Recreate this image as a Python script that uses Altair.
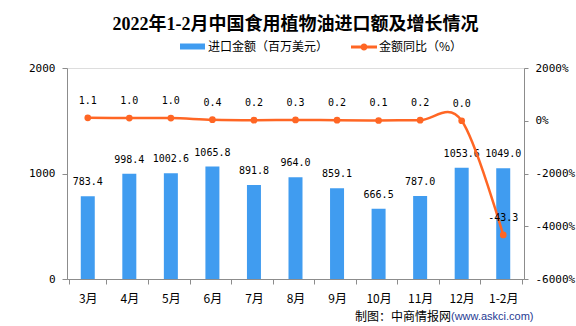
import altair as alt
import pandas as pd

months = ["3月", "4月", "5月", "6月", "7月", "8月", "9月", "10月", "11月", "12月", "1-2月"]
amount = [783.4, 998.4, 1002.6, 1065.8, 891.8, 964.0, 859.1, 666.5, 787.0, 1053.6, 1049.0]
yoy = [1.1, 1.0, 1.0, 0.4, 0.2, 0.3, 0.2, 0.1, 0.2, 0.0, -43.3]

title_text = "2022年1-2月中国食用植物油进口额及增长情况"
bar_name = "进口金额（百万美元）"
line_name = "金额同比（%）"
footer_black = "制图：中商情报网"
footer_blue = "(www.askci.com)"

BLUE = "#409CF0"
ORANGE = "#FF6624"
GREY = "#8C8C8C"
NUM_FONT = "DejaVu Sans Mono"
CJK = "Noto Sans CJK SC"

df = pd.DataFrame({
    "month": months,
    "amount": amount,
    "yoy": yoy,
    "amount_lbl": [f"{v:.1f}" for v in amount],
    "yoy_lbl": [f"{v:.1f}" for v in yoy],
    "bar_series": [bar_name] * len(months),
    "line_series": [line_name] * len(months),
})

x_enc = alt.X(
    "month:N", sort=months, title=None,
    axis=alt.Axis(
        tickBand="extent", labelAngle=0, tickSize=5, labelPadding=9,
        domainColor=GREY, tickColor=GREY, labelColor="#000000",
        labelFont=CJK, labelFontSize=12, grid=False,
    ),
)

y_left = alt.Y(
    "amount:Q", title=None,
    scale=alt.Scale(domain=[0, 2000]),
    axis=alt.Axis(
        values=[0, 1000, 2000], format="d", orient="left", grid=False,
        tickSize=5, labelPadding=7, domainColor=GREY, tickColor=GREY,
        labelColor="#000000", labelFont=NUM_FONT, labelFontSize=11,
    ),
)

bar_legend = alt.Legend(
    title=None, orient="none", legendX=113, legendY=-34, direction="horizontal",
    symbolType="M-1,-0.24H1V0.24H-1Z", symbolSize=625, symbolStrokeWidth=0,
    labelFont=CJK, labelFontSize=12, labelColor="#000000", labelOffset=3, padding=0,
)
line_legend = alt.Legend(
    title=None, orient="none", legendX=284, legendY=-34, direction="horizontal",
    symbolType="M-1,-0.11H1V0.11H-1Z M0.27,0 A0.27,0.27 0 1,1 -0.27,0 A0.27,0.27 0 1,1 0.27,0 Z",
    symbolSize=676, symbolStrokeWidth=0, symbolFillColor=ORANGE, symbolOpacity=1,
    labelFont=CJK, labelFontSize=12, labelColor="#000000", labelOffset=2, padding=0,
)

base = alt.Chart(df)

bars = base.mark_bar(width=14).encode(
    x=x_enc,
    y=y_left,
    color=alt.Color("bar_series:N", scale=alt.Scale(domain=[bar_name], range=[BLUE]), legend=bar_legend),
)
bar_text = base.mark_text(font=NUM_FONT, fontSize=10, dy=-14, color="#000000").encode(
    x=alt.X("month:N", sort=months),
    y=alt.Y("amount:Q"),
    text="amount_lbl:N",
)
left_layer = alt.layer(bars, bar_text)

y_right = alt.Y(
    "yoy:Q", title=None,
    scale=alt.Scale(domain=[-60, 20]),
    axis=alt.Axis(
        values=[-60, -40, -20, 0, 20], orient="right", grid=False,
        labelExpr="'' + round(datum.value * 100) + '%'",
        tickSize=4, labelPadding=7, domainColor=GREY, tickColor=GREY,
        labelColor="#000000", labelFont=NUM_FONT, labelFontSize=11,
    ),
)

line = base.mark_line(interpolate="cardinal", strokeWidth=2.5, color=ORANGE).encode(
    x=alt.X("month:N", sort=months),
    y=y_right,
)
points = base.mark_point(filled=True, size=45, opacity=1).encode(
    x=alt.X("month:N", sort=months),
    y=alt.Y("yoy:Q"),
    color=alt.Color("line_series:N", scale=alt.Scale(domain=[line_name], range=[ORANGE]), legend=line_legend),
)
line_text = base.mark_text(font=NUM_FONT, fontSize=10, dy=-17, color="#000000").encode(
    x=alt.X("month:N", sort=months),
    y=alt.Y("yoy:Q"),
    text="yoy_lbl:N",
)
right_layer = alt.layer(line, points, line_text)

foot1 = alt.Chart(pd.DataFrame({"t": [footer_black]})).mark_text(
    font=CJK, fontSize=12, align="right", baseline="middle", color="#000000"
).encode(x=alt.value(384), y=alt.value(249), text="t:N")
foot2 = alt.Chart(pd.DataFrame({"t": [footer_blue]})).mark_text(
    font="Liberation Sans", fontSize=11, align="left", baseline="middle", color="#1F3A93"
).encode(x=alt.value(384), y=alt.value(249), text="t:N")

chart = alt.layer(left_layer, right_layer, foot1, foot2).resolve_scale(
    y="independent", color="independent"
).resolve_legend(color="independent").properties(
    width=457, height=211,
    padding={"left": 67, "top": 68, "right": 52, "bottom": 47},
    autosize=alt.AutoSizeParams(type="none"),
    title=alt.TitleParams(
        title_text, anchor="middle", font="Liberation Serif, Noto Sans CJK SC",
        fontSize=18, fontWeight="bold", color="#000000", offset=0,
    ),
).configure_view(stroke=None).configure(background="white")

chart.save("out.html", embed_options={"renderer": "svg", "actions": False})
